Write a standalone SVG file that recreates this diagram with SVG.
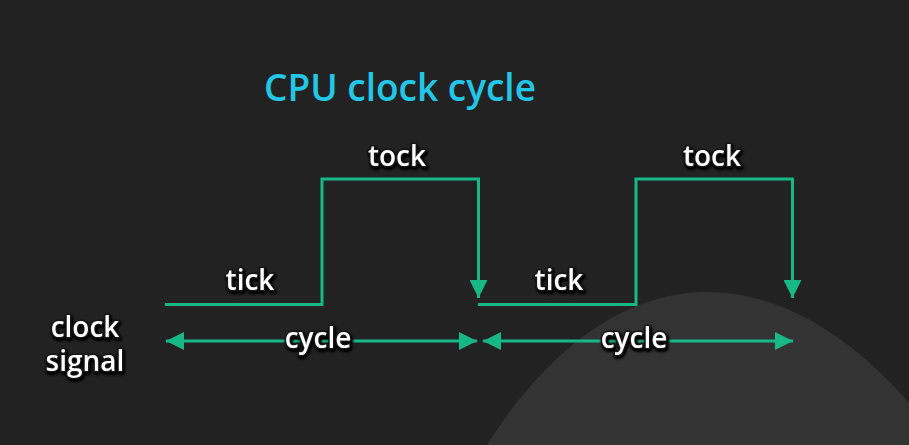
<svg xmlns="http://www.w3.org/2000/svg" width="909" height="445" viewBox="0 0 909 445">
<defs>
<marker id="ah" viewBox="0 0 10 10" refX="10" refY="5" markerWidth="18" markerHeight="18" markerUnits="userSpaceOnUse" orient="auto-start-reverse">
<path d="M0,0 L10,5 L0,10 Z" fill="#17b883"/>
</marker>
<filter id="sh" x="-20%" y="-20%" width="140%" height="140%">
<feGaussianBlur in="SourceAlpha" stdDeviation="1.5" result="b"/>
<feOffset dx="1" dy="1.5" in="b" result="o"/>
<feComponentTransfer in="o" result="o2"><feFuncA type="linear" slope="1.6"/></feComponentTransfer>
<feMerge><feMergeNode in="o2"/><feMergeNode in="SourceGraphic"/></feMerge>
</filter>
</defs>
<style>
.w{fill:none;stroke:#17b883;stroke-width:3}
.lbl{font-family:"Open Sans","Noto Sans",sans-serif;font-weight:600;fill:#ffffff;font-size:28px;text-anchor:middle;stroke:#151515;stroke-width:3;paint-order:stroke;stroke-linejoin:round}
</style>
<rect width="909" height="445" fill="#222222"/>
<path d="M487,445 C560,330 640,292 707,292 C780,292 850,335 909,403 L909,445 Z" fill="#333333"/>
<text x="400" y="101" font-family="'Open Sans','Noto Sans',sans-serif" font-weight="600" font-size="37" fill="#22c6e6" text-anchor="middle">CPU clock cycle</text>
<g id="connectors">
<path class="w" d="M165,304.5 H322 V179 H478.5 V298" marker-end="url(#ah)"/>
<path class="w" d="M478,304.5 H636 V179 H792.5 V298" marker-end="url(#ah)"/>
<line class="w" x1="166" y1="341" x2="477" y2="341" marker-start="url(#ah)" marker-end="url(#ah)"/>
<line class="w" x1="483" y1="341" x2="793" y2="341" marker-start="url(#ah)" marker-end="url(#ah)"/>
</g>
<g id="labels" filter="url(#sh)">
<text class="lbl" x="397" y="166">tock</text>
<text class="lbl" x="712" y="166">tock</text>
<text class="lbl" x="250" y="290">tick</text>
<text class="lbl" x="559" y="290">tick</text>
<text class="lbl" x="318" y="348">cycle</text>
<text class="lbl" x="634" y="348">cycle</text>
<text class="lbl" x="85" y="337"><tspan x="85">clock</tspan><tspan x="85" dy="34">signal</tspan></text>
</g>
</svg>
